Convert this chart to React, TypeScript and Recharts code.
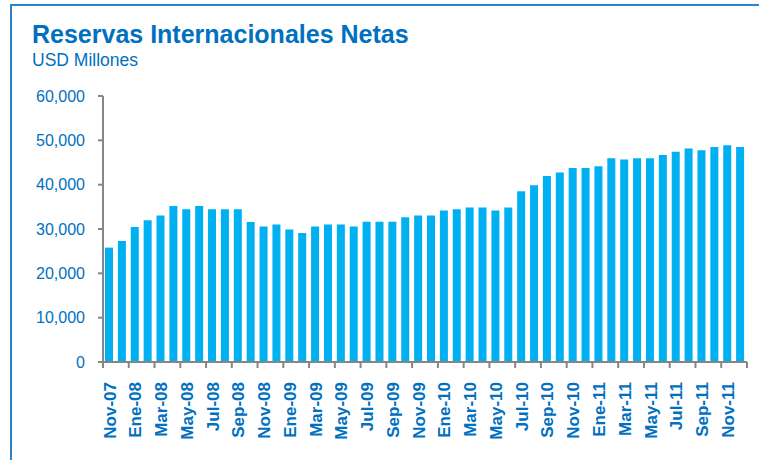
import React from 'react';
import { BarChart, Bar, XAxis, YAxis } from 'recharts';

const categories: string[] = [
  'Nov-07', 'Dic-07',
  'Ene-08', 'Feb-08', 'Mar-08', 'Abr-08', 'May-08', 'Jun-08', 'Jul-08', 'Ago-08', 'Sep-08', 'Oct-08', 'Nov-08', 'Dic-08',
  'Ene-09', 'Feb-09', 'Mar-09', 'Abr-09', 'May-09', 'Jun-09', 'Jul-09', 'Ago-09', 'Sep-09', 'Oct-09', 'Nov-09', 'Dic-09',
  'Ene-10', 'Feb-10', 'Mar-10', 'Abr-10', 'May-10', 'Jun-10', 'Jul-10', 'Ago-10', 'Sep-10', 'Oct-10', 'Nov-10', 'Dic-10',
  'Ene-11', 'Feb-11', 'Mar-11', 'Abr-11', 'May-11', 'Jun-11', 'Jul-11', 'Ago-11', 'Sep-11', 'Oct-11', 'Nov-11', 'Dic-11',
];

const reservas: number[] = [
  25800, 27300,
  30450, 31960, 33020, 35190, 34450, 35190, 34450, 34450, 34450, 31580, 30540, 30990,
  29860, 29100, 30540, 30990, 30990, 30540, 31660, 31660, 31660, 32640, 33020, 33020,
  34150, 34450, 34830, 34830, 34150, 34830, 38500, 39860, 41960, 42720, 43770, 43770,
  44150, 45950, 45650, 45950, 45950, 46700, 47450, 48130, 47760, 48500, 48880, 48500,
];

const yTicks: number[] = [0, 10000, 20000, 30000, 40000, 50000, 60000];

const data = categories.map((c, i) => ({ mes: c, valor: reservas[i] }));

const BLUE = '#0070C0';
const AXIS = '#868686';
const FONT = '"Liberation Sans", Arial, Helvetica, sans-serif';

const CHART_W = 759;
const LEFT = 103;
const RIGHT = 12;
const BAND = (CHART_W - LEFT - RIGHT) / categories.length;

const XTick = (props: any) => {
  const { x, y, payload } = props;
  const idx = payload.index as number;
  const tx = x - BAND / 2;
  const ty = y + 20;
  return (
    <g>
      <line x1={tx} y1={y} x2={tx} y2={y + 6} stroke={AXIS} strokeWidth={2} />
      {idx === categories.length - 2 && (
        <line x1={x + BAND * 1.5} y1={y} x2={x + BAND * 1.5} y2={y + 6} stroke={AXIS} strokeWidth={2} />
      )}
      <text
        x={x}
        y={ty}
        dy="0.36em"
        transform={`rotate(-90, ${x}, ${ty})`}
        textAnchor="end"
        fill={BLUE}
        fontSize={17}
        fontWeight="bold"
        fontFamily={FONT}
      >
        {payload.value}
      </text>
    </g>
  );
};

export default function App() {
  return (
    <div style={{ position: 'absolute', left: 0, top: 0, width: 759, height: 460, overflow: 'hidden', background: '#fff', fontFamily: FONT }}>
      <div
        style={{
          position: 'absolute',
          left: 10,
          top: 4,
          width: 800,
          height: 500,
          borderTop: '2px solid #2F84C9',
          borderLeft: '2px solid #2F84C9',
        }}
      />
      <div style={{ position: 'absolute', left: 32, top: 19, fontSize: 25, fontWeight: 'bold', color: BLUE, lineHeight: '30px', whiteSpace: 'nowrap' }}>
        Reservas Internacionales Netas
      </div>
      <div style={{ position: 'absolute', left: 32, top: 49, fontSize: 17.5, color: BLUE, lineHeight: '22px', whiteSpace: 'nowrap' }}>
        USD Millones
      </div>
      <div style={{ position: 'absolute', left: 0, top: 0 }}>
        <BarChart
          width={CHART_W}
          height={460}
          data={data}
          margin={{ top: 96, right: RIGHT, bottom: 0, left: 0 }}
        >
          <XAxis
            dataKey="mes"
            interval={1}
            height={98}
            tickSize={0}
            tickMargin={0}
            tickLine={false}
            axisLine={{ stroke: AXIS, strokeWidth: 2 }}
            tick={<XTick />}
          />
          <YAxis
            width={LEFT}
            domain={[0, 60000]}
            ticks={yTicks}
            interval={0}
            tickSize={5}
            tickMargin={13}
            tickLine={{ stroke: AXIS, strokeWidth: 2 }}
            axisLine={{ stroke: AXIS, strokeWidth: 2 }}
            tick={{ fill: BLUE, fontSize: 16, fontFamily: FONT }}
            tickFormatter={(v: number) => v.toLocaleString('en-US')}
          />
          <Bar dataKey="valor" fill="#00B0F0" barSize={8} isAnimationActive={false} />
        </BarChart>
      </div>
    </div>
  );
}
